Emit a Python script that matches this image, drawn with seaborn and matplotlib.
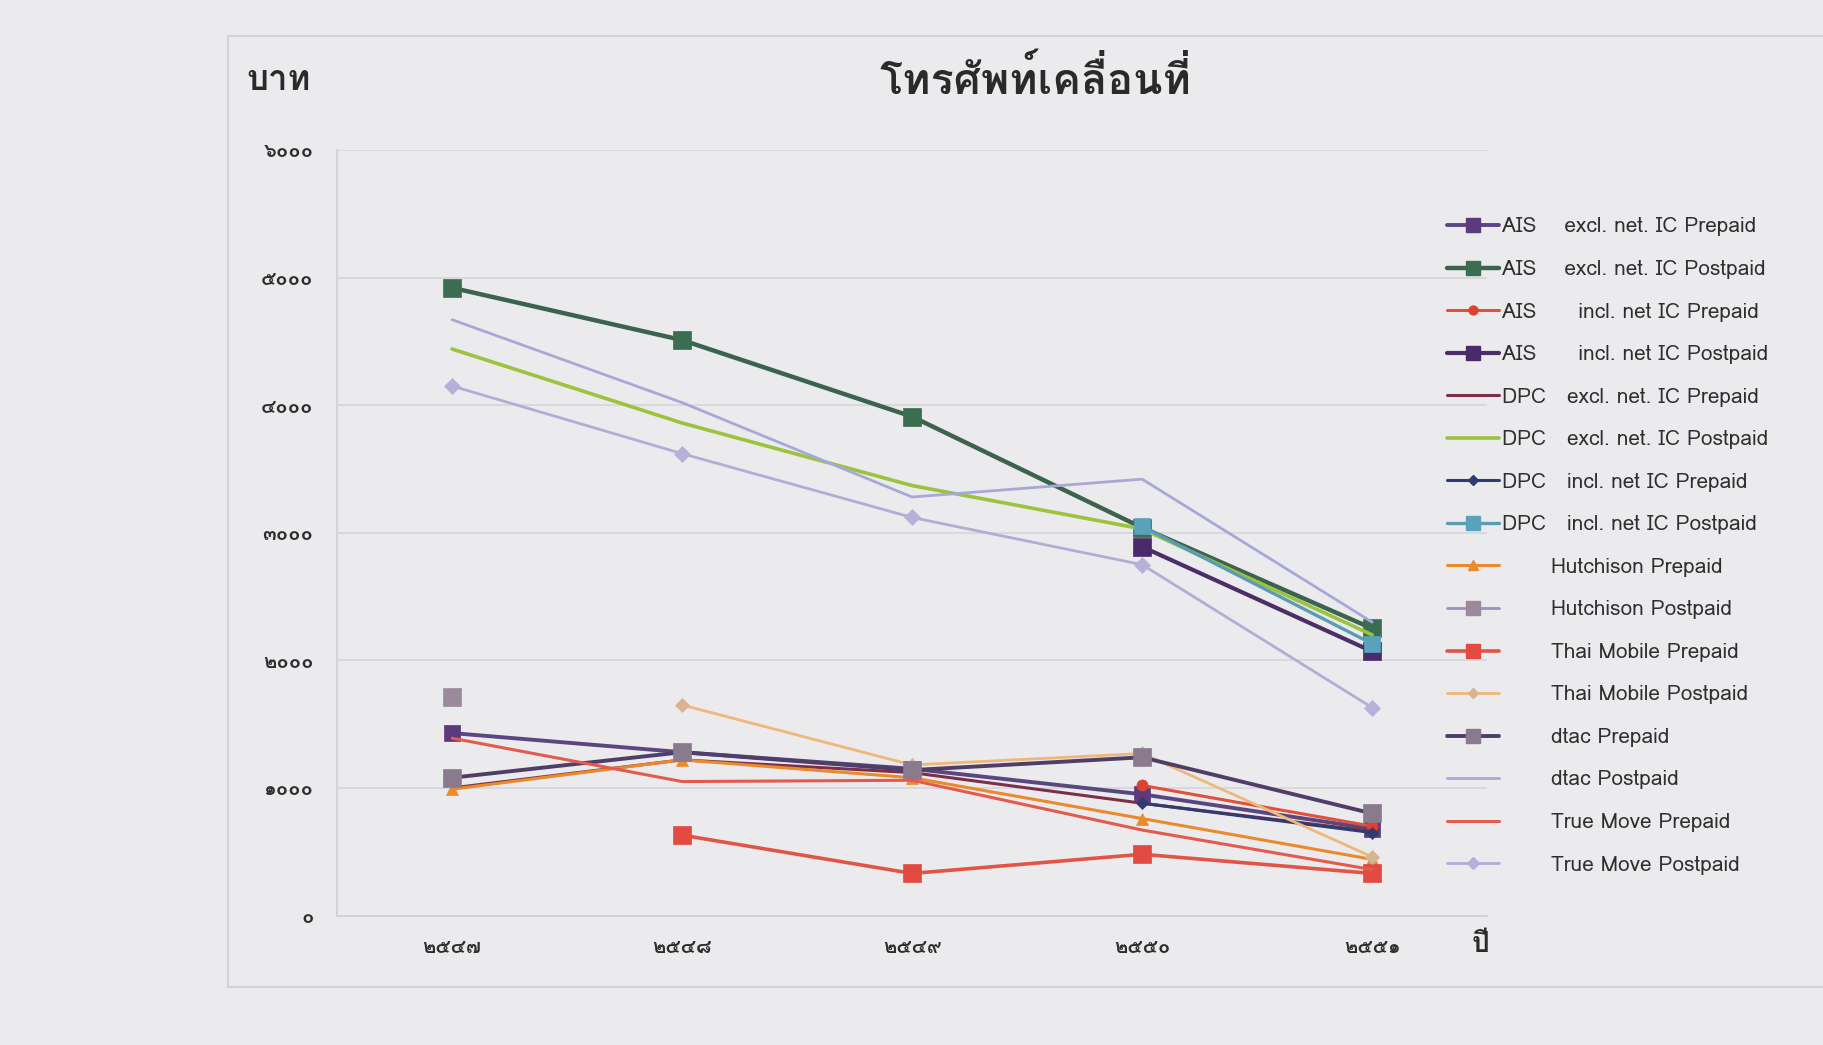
import numpy as np
import pandas as pd
import matplotlib
matplotlib.use("Agg")
import matplotlib.pyplot as plt
import seaborn as sns
from matplotlib import font_manager
from matplotlib.ft2font import FT2Font
from matplotlib.lines import Line2D

nan = np.nan

# ---------------- data ----------------
years = [2547, 2548, 2549, 2550, 2551]
x_labels = ["๒๕๔๗", "๒๕๔๘", "๒๕๔๙", "๒๕๕๐", "๒๕๕๑"]
y_ticks = [0, 1000, 2000, 3000, 4000, 5000, 6000]
y_labels = ["๐", "๑๐๐๐", "๒๐๐๐", "๓๐๐๐", "๔๐๐๐", "๕๐๐๐", "๖๐๐๐"]

title_text = "โทรศัพท์เคลื่อนที่"
y_unit = "บาท"
x_unit = "ปี"

series_names = [
    "AIS    excl. net. IC Prepaid",
    "AIS    excl. net. IC Postpaid",
    "AIS      incl. net IC Prepaid",
    "AIS      incl. net IC Postpaid",
    "DPC   excl. net. IC Prepaid",
    "DPC   excl. net. IC Postpaid",
    "DPC   incl. net IC Prepaid",
    "DPC   incl. net IC Postpaid",
    "       Hutchison Prepaid",
    "       Hutchison Postpaid",
    "       Thai Mobile Prepaid",
    "       Thai Mobile Postpaid",
    "       dtac Prepaid",
    "       dtac Postpaid",
    "       True Move Prepaid",
    "       True Move Postpaid",
]

ais_excl_pre = [1430, 1280, 1150, 950, 680]
ais_excl_post = [4920, 4510, 3910, 3040, 2250]
ais_incl_pre = [nan, nan, nan, 1020, 700]
ais_incl_post = [nan, nan, nan, 2890, 2070]
dpc_excl_pre = [1000, 1220, 1120, 880, 660]
dpc_excl_post = [4440, 3860, 3370, 3030, 2200]
dpc_incl_pre = [nan, nan, nan, 880, 650]
dpc_incl_post = [nan, nan, nan, 3050, 2130]
hutch_pre = [990, 1220, 1080, 760, 440]
hutch_post = [1710, nan, nan, nan, nan]
thai_pre = [nan, 630, 330, 480, 330]
thai_post = [nan, 1650, 1180, 1270, 460]
dtac_pre = [1080, 1280, 1140, 1240, 800]
dtac_post = [4670, 4020, 3280, 3420, 2300]
true_pre = [1390, 1050, 1060, 670, 360]
true_post = [4150, 3620, 3120, 2750, 1630]

series_values = [ais_excl_pre, ais_excl_post, ais_incl_pre, ais_incl_post,
                 dpc_excl_pre, dpc_excl_post, dpc_incl_pre, dpc_incl_post,
                 hutch_pre, hutch_post, thai_pre, thai_post,
                 dtac_pre, dtac_post, true_pre, true_post]

# ---------------- styles ----------------
# (line colour, marker, marker face colour, marker size, line width)
styles = [
    ("#5a4680", "s", "#5b3b7c", 12, 2.8),
    ("#3c634c", "s", "#3b6e50", 13, 3.2),
    ("#e0503a", "o", "#e0402e", 8, 2.2),
    ("#4a2e66", "s", "#4a2a68", 13, 3.0),
    ("#7d2f4a", None, None, 0, 2.2),
    ("#9cc23e", None, None, 0, 2.6),
    ("#303c70", "D", "#303c70", 6, 2.2),
    ("#5a9cb6", "s", "#5aa2bc", 12, 2.4),
    ("#ea8a2c", "^", "#ea8a2c", 9, 2.2),
    ("#9a92c4", "s", "#9a8a9c", 13, 2.0),
    ("#e05548", "s", "#e24a42", 13, 2.6),
    ("#f0b878", "D", "#d8b492", 7, 2.0),
    ("#4f3f68", "s", "#8a7a8e", 13, 2.8),
    ("#a8a8d8", None, None, 0, 2.0),
    ("#e45a4c", None, None, 0, 2.2),
    ("#b4acd6", "D", "#b8b0d8", 8, 2.0),
]

# ---------------- fonts ----------------
def find_thai_family():
    seen = set()
    for f in font_manager.fontManager.ttflist:
        if f.fname in seen:
            continue
        seen.add(f.fname)
        try:
            cm = FT2Font(f.fname).get_charmap()
        except Exception:
            continue
        if 0x0E42 in cm and 0x0E17 in cm and 0x0E52 in cm:
            return f.name
    return None

sns.set_theme(style="white")
thai = find_thai_family()
families = ([thai] if thai else []) + ["DejaVu Sans"]
plt.rcParams["font.family"] = families

BG = "#ebebee"
TEXT = "#2e2e2e"

fig = plt.figure(figsize=(18.24, 10.45), dpi=100, facecolor=BG)
ax = fig.add_axes([0.1848, 0.1239, 0.6305, 0.7326])
ax.set_facecolor(BG)

for name, vals, (lc, mk, mfc, ms, lw) in zip(series_names, series_values, styles):
    df = pd.DataFrame({"year": years, "value": vals}).dropna()
    sns.lineplot(data=df, x="year", y="value", ax=ax, color=lc, linewidth=lw,
                 marker=mk if mk else None, markersize=ms,
                 markerfacecolor=mfc if mfc else lc,
                 markeredgecolor=mfc if mfc else lc, markeredgewidth=0.5,
                 label=name, legend=False, sort=False)

ax.set_xlim(years[0] - 0.5, years[-1] + 0.5)
ax.set_ylim(y_ticks[0], y_ticks[-1])
ax.set_xticks(years)
ax.set_xticklabels(x_labels, fontsize=14.5, color=TEXT, fontweight="bold")
ax.set_yticks(y_ticks)
ax.set_yticklabels(y_labels, fontsize=14.5, color=TEXT, fontweight="bold")
ax.tick_params(axis="x", length=0, pad=16)
ax.tick_params(axis="y", length=0, pad=17)
ax.set_xlabel("")
ax.set_ylabel("")
ax.grid(axis="y", color="#d6d6da", linewidth=1.2)
ax.grid(axis="x", visible=False)
for s in ["top", "right"]:
    ax.spines[s].set_visible(False)
for s in ["left", "bottom"]:
    ax.spines[s].set_color("#cfcfd4")
    ax.spines[s].set_linewidth(1.2)

# legend
handles = []
for name, (lc, mk, mfc, ms, lw) in zip(series_names, styles):
    handles.append(Line2D([0], [0], color=lc, linewidth=lw, marker=mk if mk else None,
                          markersize=ms * 0.8 if mk else 0,
                          markerfacecolor=mfc if mfc else lc,
                          markeredgecolor=mfc if mfc else lc))
leg = fig.legend(handles, series_names, loc="upper left",
                 bbox_to_anchor=(1437 / 1824, 1 - 207 / 1045),
                 frameon=False, fontsize=15, labelspacing=1.13,
                 handlelength=2.5, handletextpad=0.1, borderpad=0)
for t in leg.get_texts():
    t.set_color(TEXT)

# titles
fig.text(1035 / 1824, 1 - 79 / 1045, title_text, ha="center", va="center",
         fontsize=31, fontweight="bold", color="#2a2a2a")
fig.text(279 / 1824, 1 - 81 / 1045, y_unit, ha="center", va="center",
         fontsize=25, fontweight="bold", color="#2a2a2a")
fig.text(1481 / 1824, 1 - 944 / 1045, x_unit, ha="center", va="center",
         fontsize=20, fontweight="bold", color="#2a2a2a")

# chart-area frame (decorative border of the embedded chart)
fig.add_artist(Line2D([228 / 1824, 1.0], [1 - 36 / 1045, 1 - 36 / 1045],
                      transform=fig.transFigure, color="#d2d2d6", linewidth=1.5))
fig.add_artist(Line2D([228 / 1824, 228 / 1824], [1 - 36 / 1045, 1 - 987 / 1045],
                      transform=fig.transFigure, color="#d2d2d6", linewidth=1.5))
fig.add_artist(Line2D([228 / 1824, 1.0], [1 - 987 / 1045, 1 - 987 / 1045],
                      transform=fig.transFigure, color="#d2d2d6", linewidth=1.5))

fig.savefig("out.png", dpi=100, facecolor=BG)
